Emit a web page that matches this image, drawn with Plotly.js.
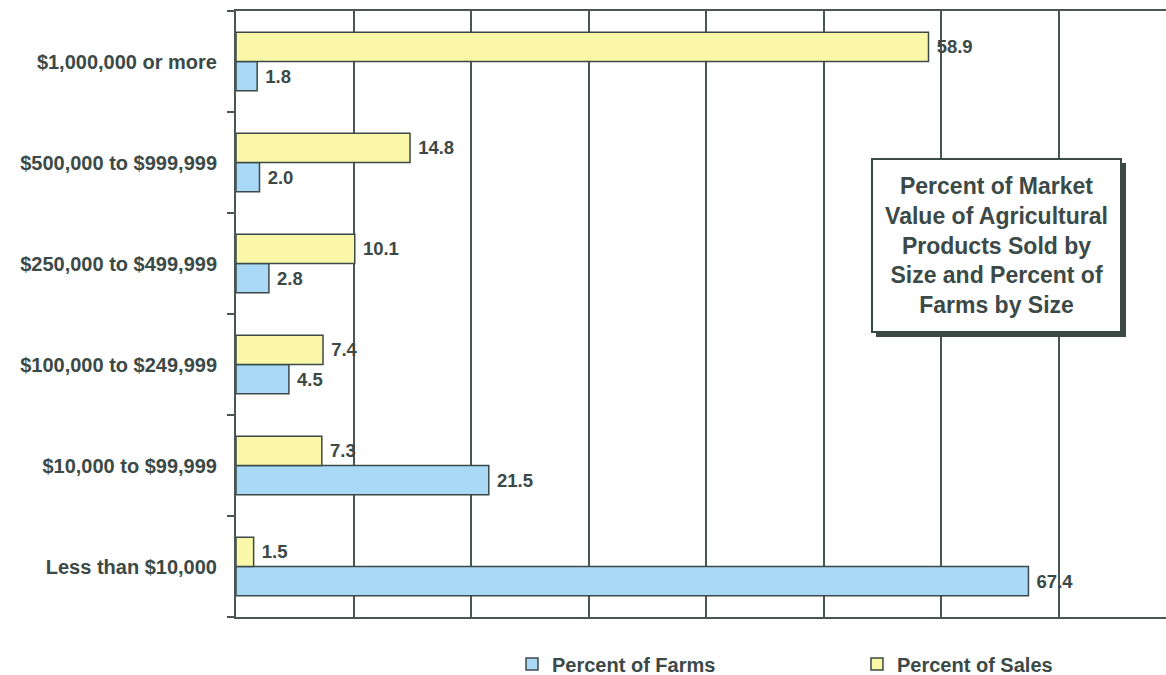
<!DOCTYPE html>
<html>
<head>
<meta charset="utf-8">
<script src="https://cdn.plot.ly/plotly-3.0.1.min.js"></script>
<style>html,body{margin:0;padding:0;background:#fff;}#chart{width:1166px;height:675px;}</style>
</head>
<body>
<div id="chart"></div>
<script>
// Categories listed from bottom to top of the chart
const categories = [
  "Less than $10,000",
  "$10,000 to $99,999",
  "$100,000 to $249,999",
  "$250,000 to $499,999",
  "$500,000 to $999,999",
  "$1,000,000 or more"
];
const percentFarms = [67.4, 21.5, 4.5, 2.8, 2.0, 1.8];
const percentSales = [1.5, 7.3, 7.4, 10.1, 14.8, 58.9];
const seriesNames = ["Percent of Farms", "Percent of Sales"];
const boxTitle = "Percent of Market<br>Value of Agricultural<br>Products Sold by<br>Size and Percent of<br>Farms by Size";

const ink = "#3b4947";
const font = "'Liberation Sans', Arial, sans-serif";

const common = {
  type: "bar",
  orientation: "h",
  y: categories,
  textposition: "outside",
  texttemplate: "\u00a0%{x:.1f}",
  constraintext: "none",
  cliponaxis: false,
  textfont: {family: font, size: 18.5, color: ink, weight: "bold"},
  hoverinfo: "skip"
};

const traces = [
  Object.assign({}, common, {
    name: seriesNames[0],
    x: percentFarms,
    marker: {color: "#a9d9f7", line: {color: ink, width: 1.5}}
  }),
  Object.assign({}, common, {
    name: seriesNames[1],
    x: percentSales,
    marker: {color: "#fbf7a8", line: {color: ink, width: 1.5}}
  })
];

const layout = {
  width: 1166,
  height: 675,
  margin: {l: 236, r: 0, t: 11, b: 58, autoexpand: false},
  paper_bgcolor: "#ffffff",
  plot_bgcolor: "#ffffff",
  barmode: "group",
  bargap: 0.42,
  bargroupgap: 0,
  font: {family: font, color: ink},
  showlegend: true,
  legend: {
    orientation: "h",
    x: (512 - 236) / 930, xanchor: "left",
    y: -(664 - 617) / 606, yanchor: "middle",
    entrywidth: 300, entrywidthmode: "pixels",
    font: {family: font, size: 20, color: ink, weight: "bold"},
    itemwidth: 30
  },
  xaxis: {
    range: [0, 79.1],
    dtick: 10,
    showgrid: true,
    gridcolor: "#4a5654",
    gridwidth: 2,
    zeroline: false,
    showticklabels: false,
    ticks: "",
    showline: true,
    linecolor: "#4a5654",
    linewidth: 2,
    mirror: true,
    fixedrange: true
  },
  yaxis: {
    type: "category",
    showline: true,
    linecolor: "#4a5654",
    linewidth: 2,
    ticks: "outside",
    tickson: "boundaries",
    ticklen: 7,
    tickcolor: "#4a5654",
    tickwidth: 1.5,
    ticklabelstandoff: 13,
    tickfont: {family: font, size: 20, color: ink, weight: "bold"},
    showgrid: false,
    zeroline: false,
    fixedrange: true
  },
  shapes: [
    {
      type: "rect", xref: "paper", yref: "paper", layer: "above",
      x0: (876 - 236) / 930, x1: (1126 - 236) / 930,
      y0: 1 - (337 - 11) / 606, y1: 1 - (163 - 11) / 606,
      fillcolor: "#3b4947", line: {width: 0}
    }
  ],
  annotations: [
    {
      xref: "paper", yref: "paper",
      x: (996.5 - 236) / 930, y: 1 - (245.5 - 11) / 606,
      xanchor: "center", yanchor: "middle",
      text: boxTitle,
      showarrow: false,
      align: "center",
      width: 247, height: 171,
      bgcolor: "#ffffff",
      bordercolor: ink,
      borderwidth: 2,
      borderpad: 0,
      font: {family: font, size: 23, color: ink, weight: "bold"}
    }
  ]
};

Plotly.newPlot("chart", traces, layout, {displayModeBar: false, staticPlot: true});
</script>
</body>
</html>
